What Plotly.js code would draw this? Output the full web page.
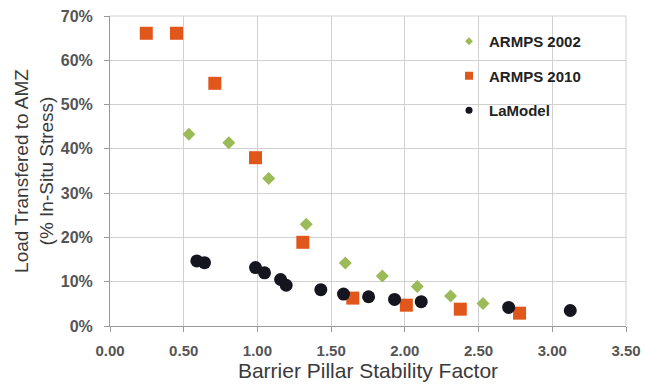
<!DOCTYPE html>
<html>
<head>
<meta charset="utf-8">
<script src="https://cdn.plot.ly/plotly-3.0.1.min.js"></script>
<style>html,body{margin:0;padding:0;background:#fff;}#chart{width:645px;height:384px;}</style>
</head>
<body>
<div id="chart"></div>
<script>
const armps2002X = [0.535, 0.806, 1.077, 1.331, 1.596, 1.847, 2.084, 2.31, 2.53];
const armps2002Y = [0.433, 0.414, 0.333, 0.230, 0.142, 0.113, 0.089, 0.068, 0.051];
const armps2010X = [0.246, 0.451, 0.711, 0.987, 1.308, 1.647, 2.01, 2.376, 2.778];
const armps2010Y = [0.661, 0.661, 0.548, 0.380, 0.189, 0.063, 0.047, 0.038, 0.029];
const lamodelX = [0.589, 0.641, 0.987, 1.048, 1.157, 1.195, 1.43, 1.584, 1.754, 1.93, 2.111, 2.704, 3.122];
const lamodelY = [0.147, 0.143, 0.132, 0.120, 0.105, 0.092, 0.082, 0.072, 0.066, 0.060, 0.055, 0.042, 0.035];
const seriesNames = ["ARMPS 2002", "ARMPS 2010", "LaModel"];

const colors = ["#9bbb59", "#e0561b", "#15151f"];
const symbols = ["diamond", "square", "circle"];
const sizes = [10, 13, 13];
const legendSizes = [6, 8, 7];
const xs = [armps2002X, armps2010X, lamodelX];
const ys = [armps2002Y, armps2010Y, lamodelY];

const traces = [];
for (let i = 0; i < 3; i++) {
  traces.push({x: xs[i], y: ys[i], name: seriesNames[i], mode: "markers", type: "scatter",
    showlegend: false, legendgroup: "g" + i,
    marker: {symbol: symbols[i], size: sizes[i], color: colors[i]}});
}
for (let i = 0; i < 3; i++) {
  traces.push({x: [null], y: [null], name: seriesNames[i], mode: "markers", type: "scatter",
    showlegend: true, legendgroup: "g" + i,
    marker: {symbol: symbols[i], size: legendSizes[i], color: colors[i]}});
}

const layout = {
  width: 645, height: 384,
  margin: {l: 110, r: 19, t: 16, b: 58},
  paper_bgcolor: "#fff", plot_bgcolor: "#fff",
  font: {family: "Liberation Sans, Arial, sans-serif", color: "#404040"},
  showlegend: true,
  legend: {x: 0.657, y: 0.971, xanchor: "left", yanchor: "top", bgcolor: "rgba(0,0,0,0)",
           font: {size: 15, color: "#222", family: "Liberation Sans, Arial, sans-serif", weight: "bold"},
           tracegroupgap: 12, itemwidth: 30, itemsizing: "trace"},
  xaxis: {range: [0, 3.5], dtick: 0.5, tick0: 0, tickformat: ".2f",
          showgrid: true, gridcolor: "#d0d0d0", gridwidth: 1,
          showline: true, linecolor: "#999", zeroline: false,
          ticks: "outside", ticklen: 5, tickcolor: "#999", ticklabelstandoff: 6,
          tickfont: {size: 15, color: "#555", weight: "bold"},
          title: {text: "Barrier Pillar Stability Factor", font: {size: 21, color: "#3a3a3a"}, standoff: 0}},
  yaxis: {range: [0, 0.7], dtick: 0.1, tick0: 0, tickformat: ".0%",
          showgrid: true, gridcolor: "#d0d0d0", gridwidth: 1,
          showline: true, linecolor: "#999", zeroline: false,
          ticks: "outside", ticklen: 5, tickcolor: "#999", ticklabelstandoff: 8,
          tickfont: {size: 16, color: "#555", weight: "bold"},
          title: {text: "Load Transfered to AMZ<br>(% In-Situ Stress)", font: {size: 19, color: "#3a3a3a"}, standoff: 2}},
  shapes: [
    {type: "line", xref: "paper", yref: "paper", x0: 1, x1: 1, y0: 0, y1: 1, line: {color: "#d0d0d0", width: 1}},
    {type: "line", xref: "paper", yref: "paper", x0: 0, x1: 1, y0: 1, y1: 1, line: {color: "#d0d0d0", width: 1}}
  ]
};

Plotly.newPlot("chart", traces, layout, {displayModeBar: false, staticPlot: true});
</script>
</body>
</html>
